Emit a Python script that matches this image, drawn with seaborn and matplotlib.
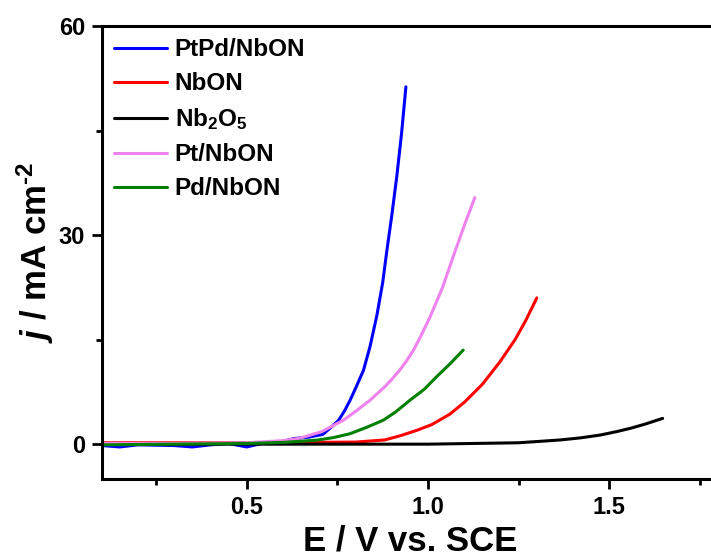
import pandas as pd
import matplotlib.pyplot as plt
import seaborn as sns
from matplotlib.ticker import MultipleLocator

sns.set_style('ticks')
plt.rcParams['font.family'] = ['Liberation Sans', 'DejaVu Sans']
plt.rcParams['font.weight'] = 'bold'
plt.rcParams['mathtext.fontset'] = 'custom'
plt.rcParams['mathtext.rm'] = 'Liberation Sans:bold'
plt.rcParams['mathtext.bf'] = 'Liberation Sans:bold'
plt.rcParams['mathtext.it'] = 'Liberation Sans:bold:italic'
plt.rcParams['axes.edgecolor'] = 'black'
plt.rcParams['xtick.color'] = 'black'
plt.rcParams['ytick.color'] = 'black'
plt.rcParams['text.color'] = 'black'
plt.rcParams['axes.labelcolor'] = 'black'

# valores (E em V vs. SCE, j em mA cm-2)
e_ptpd = [0.10, 0.15, 0.20, 0.30, 0.35, 0.40, 0.45, 0.50, 0.55, 0.60, 0.63, 0.67, 0.71, 0.73,
          0.753, 0.77, 0.785, 0.80, 0.822, 0.84, 0.859, 0.875, 0.886, 0.90, 0.914, 0.927, 0.939]
j_ptpd = [-0.2, -0.4, -0.1, -0.2, -0.4, -0.1, 0.1, -0.4, 0.2, 0.4, 0.8, 1.0, 1.4, 2.3,
          3.4, 4.8, 6.3, 8.0, 10.6, 14.0, 18.5, 23.2, 27.6, 32.8, 38.5, 44.6, 51.3]

e_nbon = [0.10, 0.50, 0.80, 0.88, 0.923, 0.97, 1.01, 1.06, 1.10, 1.15, 1.198, 1.24, 1.27, 1.30]
j_nbon = [0.2, 0.2, 0.3, 0.6, 1.2, 2.0, 2.8, 4.3, 6.0, 8.6, 11.8, 15.0, 17.8, 21.0]

e_nb2o5 = [0.10, 0.50, 1.00, 1.25, 1.364, 1.42, 1.474, 1.52, 1.56, 1.60, 1.647]
j_nb2o5 = [0.0, 0.0, 0.0, 0.2, 0.6, 0.9, 1.3, 1.8, 2.3, 2.9, 3.7]

e_pt = [0.10, 0.30, 0.50, 0.60, 0.647, 0.707, 0.767, 0.80, 0.84, 0.88, 0.90, 0.923, 0.94, 0.96,
        0.98, 1.006, 1.04, 1.074, 1.10, 1.129]
j_pt = [0.1, 0.1, 0.2, 0.5, 0.86, 1.8, 3.45, 4.7, 6.3, 8.2, 9.3, 10.7, 11.9, 13.5,
        15.5, 18.3, 22.5, 27.6, 31.4, 35.4]

e_pd = [0.10, 0.30, 0.50, 0.60, 0.693, 0.74, 0.785, 0.83, 0.877, 0.91, 0.95, 0.99, 1.024, 1.06, 1.097]
j_pd = [-0.1, 0.0, 0.1, 0.25, 0.57, 0.95, 1.5, 2.4, 3.45, 4.6, 6.3, 7.9, 9.7, 11.5, 13.5]

amostras = ['PtPd/NbON', 'NbON', r'Nb$_2$O$_5$', 'Pt/NbON', 'Pd/NbON']
cores = ['#0000ff', '#ff0000', '#000000', '#ee82ee', '#008000']
series = [(e_ptpd, j_ptpd), (e_nbon, j_nbon), (e_nb2o5, j_nb2o5), (e_pt, j_pt), (e_pd, j_pd)]

df = pd.concat([pd.DataFrame({'E': e, 'j': j, 'amostra': nome})
                for nome, (e, j) in zip(amostras, series)], ignore_index=True)

fig = plt.figure(figsize=(7.11, 5.58), dpi=100)
ax = fig.add_axes([0.143, 0.1416, 0.867, 0.8114])

sns.lineplot(data=df, x='E', y='j', hue='amostra', hue_order=amostras,
             palette=cores, sort=False, estimator=None, linewidth=2.2, ax=ax)

ax.set_xlim(0.1, 1.8)
ax.set_ylim(-5, 60)
ax.set_yticks([0, 30, 60])
ax.set_xticks([0.5, 1.0, 1.5])
ax.xaxis.set_minor_locator(MultipleLocator(0.25))
ax.yaxis.set_minor_locator(MultipleLocator(15))
ax.tick_params(which='major', length=7, width=2, labelsize=17, pad=5)
ax.tick_params(which='minor', length=4, width=2)
for lab in ax.get_xticklabels() + ax.get_yticklabels():
    lab.set_fontweight('bold')

for s in ax.spines.values():
    s.set_linewidth(2.2)
ax.spines['right'].set_visible(False)

ax.set_xlabel('E / V vs. SCE', fontsize=25, fontweight='bold', labelpad=4)
ax.set_ylabel(r'$j$ / mA cm$^{\text{-2}}$', fontsize=25, fontweight='bold', labelpad=2)

leg = ax.legend(loc='upper left', frameon=False, fontsize=17.5, handlelength=2.2,
                handletextpad=0.3, labelspacing=0.45, borderaxespad=0.2, borderpad=0.3)
for t in leg.get_texts():
    t.set_fontweight('bold')
for h in leg.get_lines():
    h.set_linewidth(2.2)

fig.savefig('out.png', dpi=100)
